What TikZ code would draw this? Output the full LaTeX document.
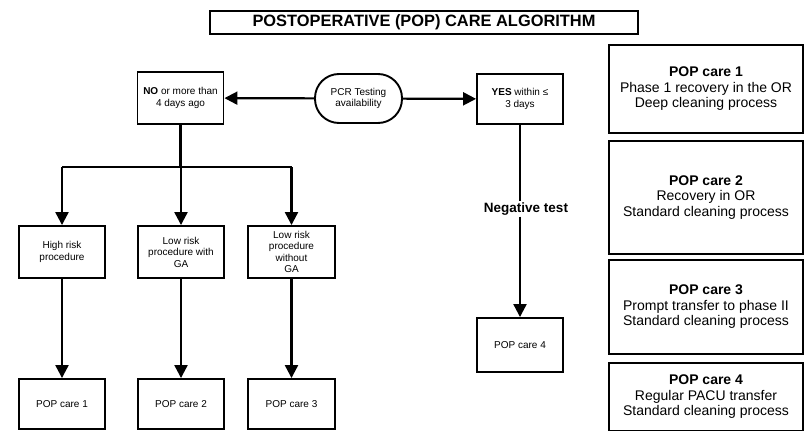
\documentclass[tikz,border=0pt]{standalone}
\usepackage{fontspec}
\setmainfont{Liberation Sans}
\usepackage{tikz}
\usetikzlibrary{positioning, arrows.meta, calc}

\begin{document}
\begin{tikzpicture}[x=1pt, y=-1pt, >={Triangle[length=13pt, width=13pt]},
  stepbox/.style={draw, line width=1.9pt, inner sep=1pt, align=center,
    minimum width=86pt, minimum height=52pt,
    font=\fontsize{10}{11.5}\selectfont},
  carebox/.style={draw, line width=2.2pt, inner sep=2pt, align=center,
    minimum width=194pt, font=\fontsize{14}{15.5}\selectfont},
  flow/.style={line width=2.2pt}]

\useasboundingbox (0,0) rectangle (804,431);

% --- Title ---
\node[draw, line width=2pt, minimum width=428pt, minimum height=23pt,
  inner sep=0pt, font=\fontsize{16.4}{18}\selectfont\bfseries] (title)
  at (424, 22.5) {POSTOPERATIVE (POP) CARE ALGORITHM};

% --- Decision row ---
\node[stepbox] (no) at (180.5, 98) {\textbf{NO} or more than\\4 days ago};
\node[stepbox, rounded corners=24pt, minimum width=87pt,
  minimum height=49pt] (pcr) at (358.5, 98.5) {PCR Testing\\availability};
\node[stepbox, minimum height=50pt] (yes) at (520, 99)
  {\textbf{YES} within ≤\\3 days};

\draw[flow, ->] (pcr) -- (no);
\draw[flow, ->] (pcr) -- (yes);

% --- NO branch ---
\node[stepbox] (hr) at (62, 252) {High risk\\procedure};
\node[stepbox] (lrga) at (181, 252) {Low risk\\procedure with\\GA};
\node[stepbox, minimum width=87pt] (lrnoga) at (291.5, 252)
  {Low risk\\procedure\\without\\GA};

\coordinate (split) at (180.5, 167);
\draw[flow] (no) -- (split);
\draw[flow] (hr |- split) -- (lrnoga |- split);
\draw[flow, ->] (hr |- split) -- (hr);
\draw[flow, ->] (lrga |- split) -- (lrga);
\draw[flow, ->] (lrnoga |- split) -- (lrnoga);

\node[stepbox, minimum height=50pt] (pc1) at (62, 404) {POP care 1};
\node[stepbox, minimum height=50pt] (pc2) at (181, 404) {POP care 2};
\node[stepbox, minimum width=87pt, minimum height=50pt] (pc3)
  at (291.5, 404) {POP care 3};

\draw[flow, ->] (hr) -- (pc1);
\draw[flow, ->] (lrga) -- (pc2);
\draw[flow, ->] (lrnoga) -- (pc3);

% --- YES branch ---
\node[font=\fontsize{13.5}{15}\selectfont\bfseries, inner sep=1pt] (neg)
  at (526, 209) {Negative test};
\node[stepbox, minimum height=54pt] (pc4) at (520, 345) {POP care 4};

\draw[flow] (yes) -- (yes |- neg.north);
\draw[flow, ->] (yes |- neg.south) -- (pc4);

% --- Legend (right) ---
\node[carebox, minimum height=88pt] (leg1) at (706, 89)
  {\textbf{POP care 1}\\Phase 1 recovery in the OR\\Deep cleaning process};
\node[carebox, minimum height=113pt] (leg2) at (706, 197.5)
  {\textbf{POP care 2}\\Recovery in OR\\Standard cleaning process};
\node[carebox, minimum height=94pt] (leg3) at (706, 307)
  {\textbf{POP care 3}\\Prompt transfer to phase II\\Standard cleaning process};
\node[carebox, minimum height=68pt] (leg4) at (706, 397)
  {\textbf{POP care 4}\\Regular PACU transfer\\Standard cleaning process};

\end{tikzpicture}
\end{document}
